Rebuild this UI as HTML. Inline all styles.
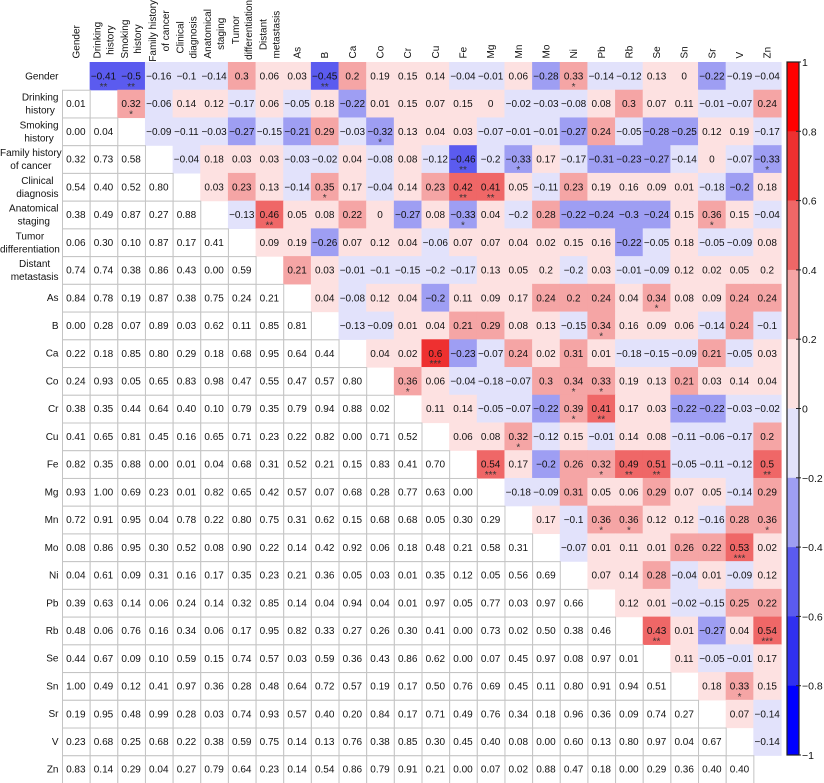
<!DOCTYPE html>
<html><head><meta charset="utf-8"><style>
html,body{margin:0;padding:0;background:#fff;}
svg{display:block;font-family:"Liberation Sans",Arial,sans-serif;}
</style></head><body>
<svg id="chart" width="824" height="783" viewBox="0 0 824 783" xmlns="http://www.w3.org/2000/svg"></svg>
<script>
const labels = [["Gender"],["Drinking","history"],["Smoking","history"],["Family history","of cancer"],["Clinical","diagnosis"],["Anatomical","staging"],["Tumor","differentiation"],["Distant","metastasis"],["As"],["B"],["Ca"],["Co"],["Cr"],["Cu"],["Fe"],["Mg"],["Mn"],["Mo"],["Ni"],["Pb"],["Rb"],["Se"],["Sn"],["Sr"],["V"],["Zn"]];
// upper triangle correlation coefficients: row i, columns i+1..25
const corrRows = [
[-0.41,-0.5,-0.16,-0.1,-0.14,0.3,0.06,0.03,-0.45,0.204,0.19,0.15,0.14,-0.04,-0.01,0.06,-0.28,0.33,-0.14,-0.12,0.13,0,-0.22,-0.19,-0.04],
[0.32,-0.06,0.14,0.12,-0.17,0.06,-0.05,0.18,-0.22,0.01,0.15,0.07,0.15,0,-0.02,-0.03,-0.08,0.08,0.3,0.07,0.11,-0.01,-0.07,0.24],
[-0.09,-0.11,-0.03,-0.27,-0.15,-0.21,0.29,-0.03,-0.32,0.13,0.04,0.03,-0.07,-0.01,-0.01,-0.27,0.24,-0.05,-0.28,-0.25,0.12,0.19,-0.17],
[-0.04,0.18,0.03,0.03,-0.03,-0.02,0.04,-0.08,0.08,-0.12,-0.46,-0.196,-0.33,0.17,-0.17,-0.31,-0.23,-0.27,-0.14,0,-0.07,-0.33],
[0.03,0.23,0.13,-0.14,0.35,0.17,-0.04,0.14,0.23,0.42,0.41,0.05,-0.11,0.23,0.19,0.16,0.09,0.01,-0.18,-0.204,0.18],
[-0.13,0.46,0.05,0.08,0.22,0,-0.27,0.08,-0.33,0.04,-0.196,0.28,-0.22,-0.24,-0.3,-0.24,0.15,0.36,0.15,-0.04],
[0.09,0.19,-0.26,0.07,0.12,0.04,-0.06,0.07,0.07,0.04,0.02,0.15,0.16,-0.22,-0.05,0.18,-0.05,-0.09,0.08],
[0.21,0.03,-0.01,-0.1,-0.15,-0.196,-0.17,0.13,0.05,0.196,-0.196,0.03,-0.01,-0.09,0.12,0.02,0.05,0.196],
[0.04,-0.08,0.12,0.04,-0.204,0.11,0.09,0.17,0.24,0.204,0.24,0.04,0.34,0.08,0.09,0.24,0.24],
[-0.13,-0.09,0.01,0.04,0.21,0.29,0.08,0.13,-0.15,0.34,0.16,0.09,0.06,-0.14,0.24,-0.1],
[0.04,0.02,0.6,-0.23,-0.07,0.24,0.02,0.31,0.01,-0.18,-0.15,-0.09,0.21,-0.05,0.03],
[0.36,0.06,-0.04,-0.18,-0.07,0.3,0.34,0.33,0.19,0.13,0.21,0.03,0.14,0.04],
[0.11,0.14,-0.05,-0.07,-0.22,0.39,0.41,0.17,0.03,-0.22,-0.22,-0.03,-0.02],
[0.06,0.08,0.32,-0.12,0.15,-0.01,0.14,0.08,-0.11,-0.06,-0.17,0.204],
[0.54,0.17,-0.204,0.26,0.32,0.49,0.51,-0.05,-0.11,-0.12,0.5],
[-0.18,-0.09,0.31,0.05,0.06,0.29,0.07,0.05,-0.14,0.29],
[0.17,-0.1,0.36,0.36,0.12,0.12,-0.16,0.28,0.36],
[-0.07,0.01,0.11,0.01,0.26,0.22,0.53,0.02],
[0.07,0.14,0.28,-0.04,0.01,-0.09,0.12],
[0.12,0.01,-0.02,-0.15,0.25,0.22],
[0.43,0.01,-0.27,0.04,0.54],
[0.11,-0.05,-0.01,0.17],
[0.18,0.33,0.15],
[0.07,-0.14],
[-0.14]
];
// lower triangle p-values: row i, columns 0..i-1
const pRows = [
[],
["0.01"],
["0.00","0.04"],
["0.32","0.73","0.58"],
["0.54","0.40","0.52","0.80"],
["0.38","0.49","0.87","0.27","0.88"],
["0.06","0.30","0.10","0.87","0.17","0.41"],
["0.74","0.74","0.38","0.86","0.43","0.00","0.59"],
["0.84","0.78","0.19","0.87","0.38","0.75","0.24","0.21"],
["0.00","0.28","0.07","0.89","0.03","0.62","0.11","0.85","0.81"],
["0.22","0.18","0.85","0.80","0.29","0.18","0.68","0.95","0.64","0.44"],
["0.24","0.93","0.05","0.65","0.83","0.98","0.47","0.55","0.47","0.57","0.80"],
["0.38","0.35","0.44","0.64","0.40","0.10","0.79","0.35","0.79","0.94","0.88","0.02"],
["0.41","0.65","0.81","0.45","0.16","0.65","0.71","0.23","0.22","0.82","0.00","0.71","0.52"],
["0.82","0.35","0.88","0.00","0.01","0.04","0.68","0.31","0.52","0.21","0.15","0.83","0.41","0.70"],
["0.93","1.00","0.69","0.23","0.01","0.82","0.65","0.42","0.57","0.07","0.68","0.28","0.77","0.63","0.00"],
["0.72","0.91","0.95","0.04","0.78","0.22","0.80","0.75","0.31","0.62","0.15","0.68","0.68","0.05","0.30","0.29"],
["0.08","0.86","0.95","0.30","0.52","0.08","0.90","0.22","0.14","0.42","0.92","0.06","0.18","0.48","0.21","0.58","0.31"],
["0.04","0.61","0.09","0.31","0.16","0.17","0.35","0.23","0.21","0.36","0.05","0.03","0.01","0.35","0.12","0.05","0.56","0.69"],
["0.39","0.63","0.14","0.06","0.24","0.14","0.32","0.85","0.14","0.04","0.94","0.04","0.01","0.97","0.05","0.77","0.03","0.97","0.66"],
["0.48","0.06","0.76","0.16","0.34","0.06","0.17","0.95","0.82","0.33","0.27","0.26","0.30","0.41","0.00","0.73","0.02","0.50","0.38","0.46"],
["0.44","0.67","0.09","0.10","0.59","0.15","0.74","0.57","0.03","0.59","0.36","0.43","0.86","0.62","0.00","0.07","0.45","0.97","0.08","0.97","0.01"],
["1.00","0.49","0.12","0.41","0.97","0.36","0.28","0.48","0.64","0.72","0.57","0.19","0.17","0.50","0.76","0.69","0.45","0.11","0.80","0.91","0.94","0.51"],
["0.19","0.95","0.48","0.99","0.28","0.03","0.74","0.93","0.57","0.40","0.20","0.84","0.17","0.71","0.49","0.76","0.34","0.18","0.96","0.36","0.09","0.74","0.27"],
["0.23","0.68","0.25","0.68","0.22","0.38","0.59","0.75","0.14","0.13","0.76","0.38","0.85","0.30","0.45","0.40","0.08","0.00","0.60","0.13","0.80","0.97","0.04","0.67"],
["0.83","0.14","0.29","0.04","0.27","0.79","0.64","0.23","0.14","0.54","0.86","0.79","0.91","0.21","0.00","0.07","0.02","0.88","0.47","0.18","0.00","0.29","0.36","0.40","0.40"]
];
// significance stars: [row, col, count]
const stars = [[0,1,2],[0,2,2],[0,9,2],[0,18,1],[1,2,1],[2,11,1],[3,14,2],[3,16,1],[3,25,1],[4,9,1],[4,14,2],[4,15,2],[5,7,2],[5,14,1],[5,23,1],[8,21,1],[9,19,1],[10,13,3],[11,12,1],[11,18,1],[11,19,1],[12,18,1],[12,19,2],[13,16,1],[14,15,3],[14,19,1],[14,20,2],[14,21,2],[14,25,2],[16,19,1],[16,20,1],[16,25,1],[17,24,3],[20,21,2],[20,25,3],[22,24,1]];
const cbTicks = [1,0.8,0.6,0.4,0.2,0,-0.2,-0.4,-0.6,-0.8,-1];

const NS="http://www.w3.org/2000/svg";
const svg=document.getElementById('chart');
const N=labels.length, X0=62, Y0=62, CW=(781-62)/N, CH=(783-62)/N;
const xs=j=>X0+j*CW, ys=i=>Y0+i*CH;
function mk(tag,attrs,parent){const e=document.createElementNS(NS,tag);for(const k in attrs)e.setAttribute(k,attrs[k]);(parent||svg).appendChild(e);return e;}
function color(v){
  if(v>=0){ if(v<0.2)return"#fde1e1"; if(v<0.4)return"#f5a5a5"; if(v<0.6)return"#ef6767"; if(v<0.8)return"#ee3030"; return"#ff0000";}
  if(v>-0.2)return"#e2e2fb"; if(v>-0.4)return"#9e9ef3"; if(v>-0.6)return"#5b5bef"; if(v>-0.8)return"#3030f0"; return"#0000ff";
}
function fmt(v){let s=String(parseFloat(v.toFixed(2)));return s.replace('-','\u2212');}
const gCells=mk('g',{});


const gText=mk('g',{'font-size':'10','fill':'#111','text-anchor':'middle'});


corrRows.forEach((row,i)=>{row.forEach((v,k)=>{const j=i+1+k;
  const r=mk('rect',{x:xs(j),y:ys(i),width:CW+0.6,height:CH+0.6,fill:color(v)},gCells);
  
  
  const t=mk('text',{x:xs(j)+CW/2,y:ys(i)+CH/2+3.6},gText);t.textContent=fmt(v);
  
  
});});
pRows.forEach((row,i)=>{row.forEach((p,j)=>{
  const r=mk('rect',{x:xs(j)+0.5,y:ys(i)+0.5,width:CW,height:CH,fill:'#fff',stroke:'#c4c4c4','stroke-width':1},gCells);
  
  
  const t=mk('text',{x:xs(j)+CW/2,y:ys(i)+CH/2+3.6},gText);t.textContent=p;
  
  
});});
stars.forEach(([i,j,n])=>{
  const t=mk('text',{x:xs(j)+CW/2,y:ys(i)+CH/2+14,'font-size':'10','fill':'#333'},gText);t.textContent='*'.repeat(n);
  
  
});
labels.forEach((ls,i)=>{
  const g=mk('g',{'font-size':'10','fill':'#111','text-anchor':'middle'});
  
  
  const cy=ys(i)+CH/2;
  const ts=ls.map((s,k)=>{const t=mk('text',{x:0,y:cy+3.5+(k-(ls.length-1)/2)*13},g);t.textContent=s;return t;});
  const w=Math.max(...ts.map(t=>t.getComputedTextLength()));
  ts.forEach(t=>t.setAttribute('x',Math.max(58.5-w/2,w/2)));
});
labels.forEach((ls,j)=>{
  const g=mk('g',{'font-size':'10','fill':'#111','text-anchor':'middle'});
  
  
  const cx=xs(j)+CW/2;
  const ts=ls.map((s,k)=>{const t=mk('text',{},g);t.textContent=s;return t;});
  const w=Math.max(...ts.map(t=>t.getComputedTextLength()));
  const cy=Math.max(58.5-w/2,w/2);
  ts.forEach((t,k)=>{const x=cx+3.5+(k-(ls.length-1)/2)*13;t.setAttribute('transform',`translate(${x},${cy}) rotate(-90)`);});
});
const cb=mk('g',{});


const CBX=787,CBW=12,CBT=62,CBB=755;
const cbY=v=>CBT+(1-v)/2*(CBB-CBT);
for(let k=0;k<cbTicks.length-1;k++){const hi=cbTicks[k],lo=cbTicks[k+1];
  const r=mk('rect',{x:CBX,y:cbY(hi),width:CBW,height:cbY(lo)-cbY(hi)+0.3,fill:color((hi+lo)/2)},cb);
  
  
}
mk('rect',{x:CBX,y:CBT,width:CBW,height:CBB-CBT,fill:'none',stroke:'#222','stroke-width':1.2},cb);
cbTicks.forEach(v=>{
  mk('line',{x1:CBX+CBW-3,x2:CBX+CBW+2,y1:cbY(v),y2:cbY(v),stroke:'#222','stroke-width':1},cb);
  const t=mk('text',{x:CBX+CBW+3,y:cbY(v)+4,'font-size':'10.5','fill':'#111'},cb);t.textContent=String(v).replace('-','\u2212');
  
  
});
</script>
</body></html>
